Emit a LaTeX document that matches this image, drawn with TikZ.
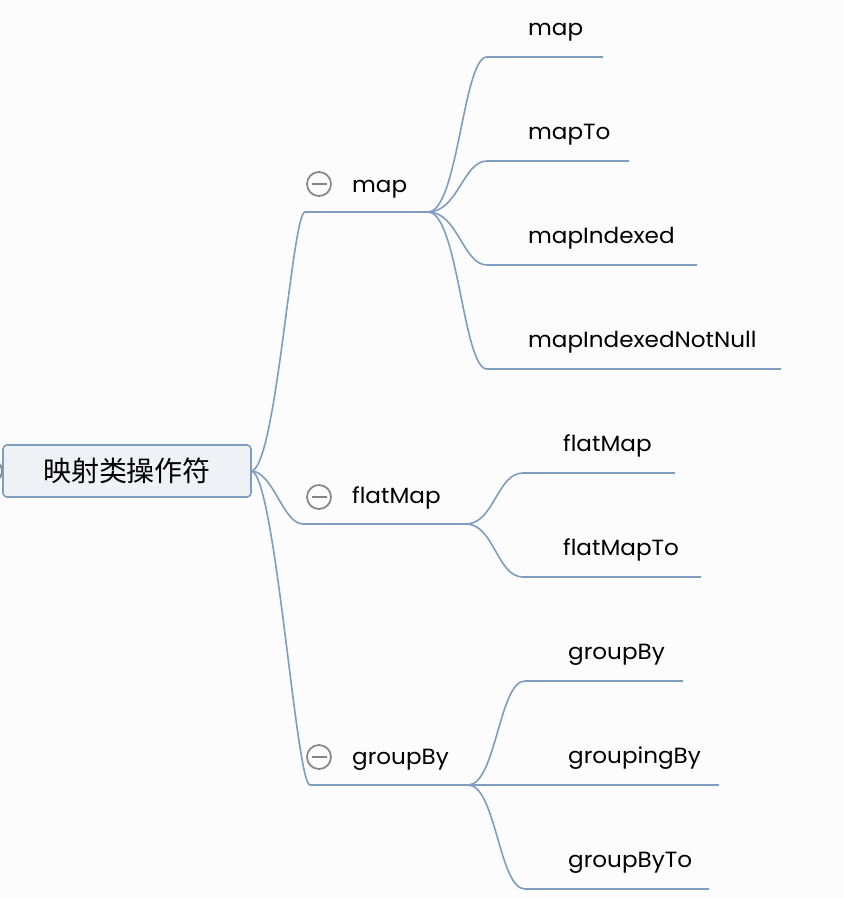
\documentclass[tikz,border=0pt]{standalone}
\usepackage{fontspec}
\setmainfont{Poppins}[FakeStretch=1.05]
\newfontfamily\cjk{Noto Sans CJK SC}
\definecolor{bgc}{HTML}{FCFCFC}
\definecolor{linec}{HTML}{7F9EBE}
\definecolor{rootfill}{HTML}{EEF2F7}
\definecolor{iconc}{HTML}{858585}
\begin{document}
\begin{tikzpicture}[x=1pt,y=-1pt,
  conn/.style={draw=linec,line width=1.6pt},
  lbl/.style={anchor=base west,inner sep=0pt,font=\fontsize{22}{25}\selectfont},
  icon/.style={circle,draw=iconc,line width=1.7pt,minimum size=24pt,inner sep=0pt,
    path picture={\draw[iconc,line width=1.7pt] ([xshift=-7.5pt]path picture bounding box.center) -- ([xshift=7.5pt]path picture bounding box.center);}}
]
\useasboundingbox (0,0) rectangle (844,898);
\fill[bgc] (0,0) rectangle (844,898);
\clip (0,0) rectangle (844,898);
% root expand icon (mostly off picture)
\node[icon] (rooticon) at (-10,471) {};
% root
\node[draw=linec,fill=rootfill,line width=1.6pt,rounded corners=4pt,minimum width=248pt,minimum height=52pt,inner sep=0pt] (root) at (127,471) {\cjk\fontsize{28}{32}\selectfont 映射类操作符};
\coordinate (r0) at (251,471);
% level 1 coordinates
\coordinate (m1s) at (305,212); \coordinate (m1e) at (428,212);
\coordinate (f1s) at (303,524); \coordinate (f1e) at (466,524);
\coordinate (g1s) at (310,785); \coordinate (g1e) at (468,785);
\node[lbl] (tmap) at (352,192) {map};
\node[lbl] (tflat) at (352,503) {flatMap};
\node[lbl] (tgroup) at (352,764) {groupBy};
\node[icon] (imap) at (319,184) {};
\node[icon] (iflat) at (319,497) {};
\node[icon] (igroup) at (319,757) {};
\draw[conn] (r0) .. controls +(25,0) and +(-13,0) .. (m1s) -- (m1e);
\draw[conn] (r0) .. controls +(22,0) and +(-20,0) .. (f1s) -- (f1e);
\draw[conn] (r0) .. controls +(24,0) and +(-14,0) .. (g1s) -- (g1e);
% map children
\coordinate (a1s) at (487,57);  \coordinate (a1e) at (603,57);
\coordinate (a2s) at (487,161); \coordinate (a2e) at (629,161);
\coordinate (a3s) at (487,265); \coordinate (a3e) at (697,265);
\coordinate (a4s) at (487,369); \coordinate (a4e) at (781,369);
\node[lbl] (ta1) at (528,35) {map};
\node[lbl] (ta2) at (528,139) {mapTo};
\node[lbl] (ta3) at (528,243) {mapIndexed};
\node[lbl] (ta4) at (528,347) {mapIndexedNotNull};
\foreach \i in {1,2,3,4}{
  \draw[conn] (m1e) .. controls +(30,0) and +(-24,0) .. (a\i s) -- (a\i e);
}
% flatMap children
\coordinate (b1s) at (523,473); \coordinate (b1e) at (675,473);
\coordinate (b2s) at (523,577); \coordinate (b2e) at (701,577);
\node[lbl] (tb1) at (563,451) {flatMap};
\node[lbl] (tb2) at (563,555) {flatMapTo};
\foreach \i in {1,2}{
  \draw[conn] (f1e) .. controls +(28,0) and +(-26,0) .. (b\i s) -- (b\i e);
}
% groupBy children
\coordinate (c1s) at (525,681); \coordinate (c1e) at (683,681);
\coordinate (c2e) at (719,785);
\coordinate (c3s) at (525,889); \coordinate (c3e) at (709,889);
\node[lbl] (tc1) at (568,659) {groupBy};
\node[lbl] (tc2) at (568,763) {groupingBy};
\node[lbl] (tc3) at (568,867) {groupByTo};
\draw[conn] (g1e) .. controls +(28,0) and +(-26,0) .. (c1s) -- (c1e);
\draw[conn] (g1e) -- (c2e);
\draw[conn] (g1e) .. controls +(28,0) and +(-26,0) .. (c3s) -- (c3e);
\end{tikzpicture}
\end{document}
